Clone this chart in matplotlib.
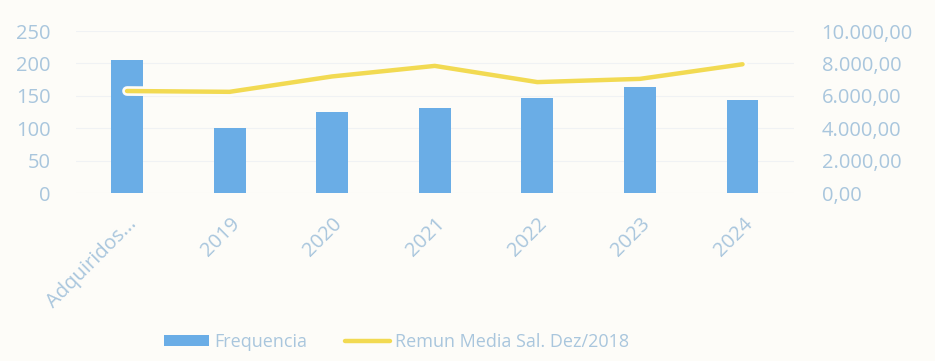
import matplotlib.pyplot as plt
import matplotlib.patheffects as pe
from matplotlib.ticker import FuncFormatter
import numpy as np

# categorias e séries
categorias = ["Adquiridos...", "2019", "2020", "2021", "2022", "2023", "2024"]
frequencia = [205, 101, 125, 131, 147, 164, 144]
remuneracao = [6300, 6250, 7200, 7850, 6850, 7050, 7950]

cor_barra = "#6aade6"
cor_linha = "#f2da52"
cor_texto = "#a9c6dd"
fundo = "#fdfcf8"

plt.rcParams['font.family'] = ['Open Sans', 'DejaVu Sans']

fig = plt.figure(figsize=(9.35, 3.61), dpi=100, facecolor=fundo)
ax = fig.add_axes([0.081, 0.465, 0.768, 0.449])
ax.set_facecolor(fundo)

x = np.arange(len(categorias))
ax.bar(x, frequencia, width=0.31, color=cor_barra, label="Frequencia", zorder=2)
ax.set_xlim(-0.5, len(categorias) - 0.5)
ax.set_ylim(0, 250)
ax.set_yticks([0, 50, 100, 150, 200, 250])
ax.grid(axis='y', color="#f0f2f4", linewidth=0.8, zorder=0)

ax2 = ax.twinx()
ax2.plot(x, remuneracao, color=cor_linha, linewidth=3.2, solid_joinstyle='round',
         solid_capstyle='round', label="Remun Media Sal. Dez/2018", zorder=3,
         path_effects=[pe.Stroke(linewidth=7, foreground=fundo), pe.Normal()])
ax2.set_ylim(0, 10000)
ax2.set_yticks(np.arange(0, 10001, 2000))
ax2.yaxis.set_major_formatter(FuncFormatter(
    lambda v, p: f"{v:,.2f}".replace(",", "X").replace(".", ",").replace("X", ".")))

for a in (ax, ax2):
    for s in a.spines.values():
        s.set_visible(False)
    a.tick_params(length=0, colors=cor_texto, labelsize=14.5)

ax.tick_params(axis='y', pad=18)
ax2.tick_params(axis='y', pad=20)
ax.set_xticks(x)
ax.set_xticklabels(categorias, rotation=45, ha='right', rotation_mode='anchor',
                   fontsize=14.5)
ax.tick_params(axis='x', pad=15)

h1, l1 = ax.get_legend_handles_labels()
h2, l2 = ax2.get_legend_handles_labels()
leg = fig.legend(h1 + h2, l1 + l2, loc='center', bbox_to_anchor=(0.424, 0.053),
                 ncol=2, frameon=False, fontsize=13, labelcolor=cor_texto,
                 handlelength=2.5, handleheight=0.55, handletextpad=0.25,
                 columnspacing=2.1)

fig.savefig("out.png", dpi=100, facecolor=fundo)
